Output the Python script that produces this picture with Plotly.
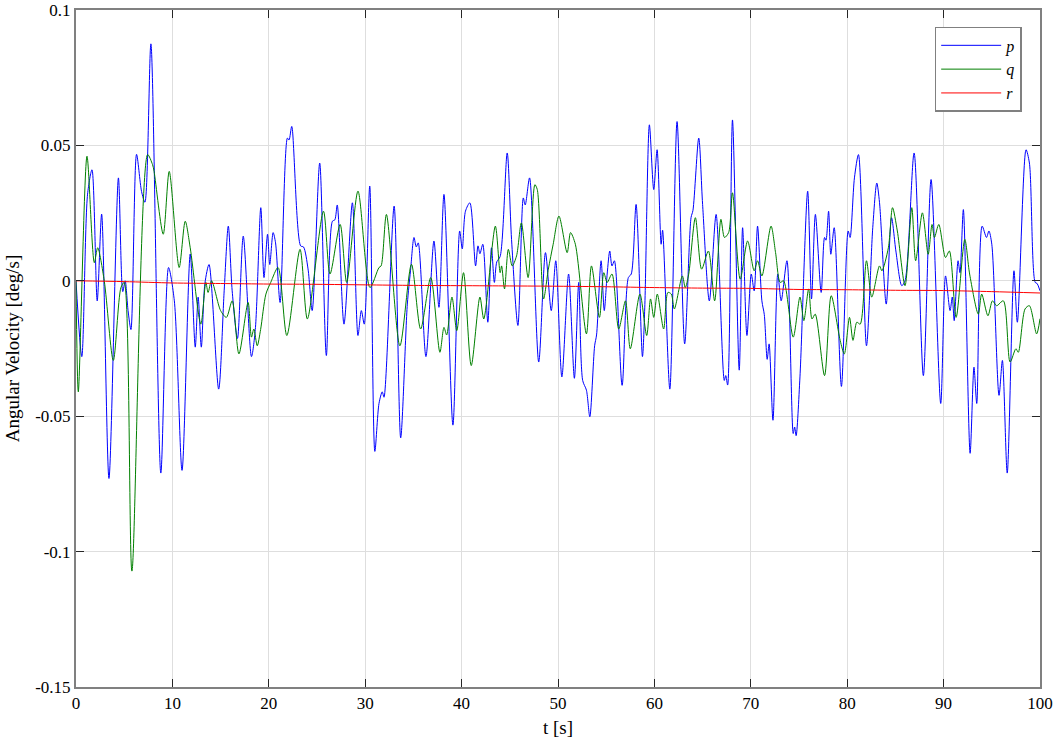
import plotly.graph_objects as go

# ---- data ----
p_t = [0.0, 0.6, 1.2, 1.66, 2.2, 2.66, 3.42, 4.4, 4.85, 5.1, 5.4, 5.7, 6.28, 6.8, 7.15, 7.77, 8.8, 9.6, 10.2,
       11.0, 11.85, 12.37, 12.67, 13.0, 13.37, 13.8, 14.8, 15.37, 15.8, 16.2, 16.75, 17.35, 18.2, 18.6, 19.17,
       19.5, 19.87, 20.1, 20.45, 20.7, 21.17, 21.93, 22.1, 22.38, 23.3, 23.6, 24.07, 24.5, 25.28, 25.97, 26.6,
       26.85, 27.1, 27.8, 28.67, 29.25, 29.6, 29.9, 30.47, 31.0, 31.43, 31.77, 31.95, 33.0, 33.68, 34.37, 34.7,
       35.06, 35.3, 35.5, 36.3, 37.13, 37.65, 38.17, 39.1, 39.8, 40.07, 40.4, 40.86, 41.45, 41.7, 41.9, 42.2,
       42.72, 43.1, 43.4, 43.65, 44.0, 44.73, 45.18, 45.84, 46.4, 46.6, 47.05, 48.0, 48.7, 49.3, 49.77, 50.4,
       51.1, 51.7, 52.15, 52.56, 52.95, 53.3, 53.8, 54.0, 54.47, 54.8, 55.1, 55.37, 55.6, 55.85, 56.65, 57.3,
       57.6, 58.1, 58.76, 59.0, 59.48, 59.93, 60.28, 60.7, 60.85, 61.6, 62.35, 63.14, 63.8, 64.0, 64.6, 65.0,
       65.7, 66.4, 67.25, 67.4, 67.6, 68.1, 68.8, 69.15, 69.6, 70.05, 70.35, 70.7, 71.15, 71.4, 71.7, 71.9,
       72.3, 72.8, 73.15, 73.75, 74.4, 74.55, 74.7, 75.1, 75.9, 76.3, 76.7, 77.3, 77.65, 77.8, 78.07, 78.3,
       78.65, 79.4, 80.1, 80.3, 80.75, 81.17, 82.0, 82.65, 83.07, 83.35, 84.05, 84.6, 85.05, 85.66, 86.0,
       86.94, 87.9, 88.7, 89.7, 90.2, 90.67, 90.9, 91.1, 91.5, 91.7, 92.05, 92.75, 93.15, 93.44, 94.0, 94.45,
       94.7, 95.0, 95.75, 96.1, 96.6, 97.3, 97.65, 98.55, 98.9, 99.5, 99.7, 100.0]
p_v = [0.0, -0.028, 0.032, 0.041, -0.0074, 0.0246, -0.073, 0.038, -0.004, 0.0, -0.011, -0.018, 0.0467, 0.033,
       0.029, 0.0875, -0.071, 0.0049, -0.0074, -0.070, 0.0099, -0.0245, -0.006, -0.0245, -0.001, 0.006, -0.040,
       -0.0037, 0.0202, -0.0037, -0.0213, 0.0165, -0.028, -0.018, 0.027, 0.0012, 0.0172, 0.006, 0.0178, 0.014,
       -0.008, 0.0527, 0.052, 0.057, 0.0129, 0.0125, 0.0044, -0.011, 0.0435, -0.0276, 0.022, 0.0225, 0.028,
       -0.016, 0.0288, -0.0202, -0.011, -0.016, 0.035, -0.063, -0.0453, -0.041, -0.043, 0.0276, -0.058,
       -0.0086, 0.0037, 0.016, 0.0125, 0.014, -0.028, 0.0147, -0.0098, 0.0319, -0.0533, 0.0184, 0.0118, 0.0257,
       0.0288, 0.0055, 0.0129, 0.010, 0.0135, -0.0153, 0.0122, -0.0006, 0.007, 0.009, 0.0472, 0.0153, -0.0165,
       0.0306, 0.028, 0.038, -0.030, 0.0104, -0.011, 0.0074, -0.0355, 0.0025, -0.036, -0.0006, -0.0368,
       -0.0404, -0.0502, -0.024, -0.020, 0.0074, -0.011, 0.0025, 0.011, 0.0055, 0.0074, -0.0386, 0.0012,
       0.0025, 0.0282, -0.028, -0.010, 0.0576, 0.0337, 0.0484, 0.0135, 0.0187, -0.040, 0.0588, -0.0233, 0.0233,
       0.026, 0.0527, 0.0282, -0.0074, 0.0245, -0.0368, -0.035, -0.0385, 0.0594, -0.033, 0.0196, -0.0202,
       0.0025, -0.0037, 0.0202, -0.0074, -0.0125, -0.029, -0.0233, -0.0515, 0.0025, -0.0074, 0.0074, -0.0564,
       -0.054, -0.0572, -0.0355, 0.0331, -0.0067, 0.0245, -0.0043, 0.016, 0.015, 0.0257, 0.0098, 0.0196,
       -0.039, 0.0184, 0.016, 0.038, 0.0466, -0.024, 0.0196, 0.0361, 0.029, -0.0086, 0.0233, 0.011, -0.0018,
       0.0, 0.0472, -0.035, 0.0374, -0.0453, 0.0018, -0.011, -0.006, -0.0147, 0.0074, 0.003, 0.0263, -0.0637,
       -0.0319, -0.0453, 0.0202, 0.016, 0.0184, 0.0135, -0.0423, -0.0294, -0.071, 0.0037, -0.0153, 0.0484,
       0.0435, -0.0006, -0.001, -0.0037]

q_t = [0.0, 0.24, 1.14, 1.9, 2.25, 2.93, 3.87, 4.66, 5.0, 5.8, 7.43, 7.94, 8.1, 9.05, 9.67, 10.7, 11.33,
       11.85, 12.95, 13.47, 13.7, 14.06, 15.0, 15.6, 16.2, 16.9, 17.85, 18.2, 18.45, 18.8, 19.15, 19.7, 20.2,
       20.96, 21.87, 23.24, 24.0, 25.67, 26.35, 27.4, 28.08, 29.25, 30.5, 31.43, 31.65, 32.2, 33.6, 34.8,
       35.75, 36.8, 37.75, 38.17, 38.45, 39.0, 39.5, 40.2, 41.0, 41.9, 42.3, 43.5, 44.0, 44.15, 44.45, 44.85,
       45.25, 45.7, 46.2, 46.9, 47.6, 47.85, 48.5, 49.0, 49.5, 50.1, 50.95, 51.3, 51.8, 52.95, 53.47, 54.3,
       54.75, 55.1, 55.6, 56.3, 57.0, 57.5, 58.5, 59.2, 59.6, 59.93, 60.3, 60.96, 61.4, 61.75, 62.07, 62.9,
       63.2, 63.56, 64.25, 64.9, 65.6, 66.25, 66.9, 67.27, 67.7, 68.1, 68.9, 69.67, 70.35, 70.7, 71.15, 72.1,
       72.57, 73.05, 73.4, 74.4, 75.1, 75.5, 76.0, 76.35, 76.68, 77.65, 78.34, 79.27, 79.7, 80.24, 80.6, 81.0,
       81.35, 82.0, 82.55, 83.35, 83.6, 84.27, 84.7, 85.2, 86.0, 86.7, 87.1, 87.8, 88.4, 88.8, 89.05, 89.5,
       90.2, 90.6, 91.3, 92.2, 92.7, 93.6, 93.95, 94.6, 95.07, 95.5, 96.2, 96.9, 97.5, 97.75, 98.45, 98.9,
       99.65, 100.0]
q_v = [0.0, -0.041, 0.046, 0.0067, 0.0122, 0.0, -0.0294, -0.0025, -0.0006, -0.1072, 0.0466, 0.0429, 0.0404,
       0.0172, 0.0404, 0.0049, 0.022, 0.0122, -0.016, -0.0006, -0.0043, 0.0, -0.011, -0.0135, -0.0074, -0.027,
       -0.008, -0.0208, -0.0178, -0.024, -0.018, -0.0049, -0.0006, 0.0049, -0.0202, 0.0116, -0.0141, 0.0257,
       0.0025, 0.0208, -0.0006, 0.0331, -0.0025, 0.0049, 0.0055, 0.0245, -0.024, 0.0061, -0.0178, 0.0012,
       -0.0264, -0.0172, -0.020, -0.006, -0.0184, 0.003, -0.0313, -0.006, -0.0141, 0.0202, 0.003, 0.0055,
       -0.003, 0.0116, 0.0055, 0.0092, 0.0214, 0.0012, 0.0355, 0.0337, -0.0067, 0.0043, 0.0135, 0.0239, 0.0104,
       0.0178, 0.0135, -0.0196, 0.0055, -0.0135, 0.003, -0.0006, 0.0025, -0.0178, -0.0074, -0.0251, -0.0049,
       -0.0202, -0.0067, -0.0135, -0.0049, -0.0178, -0.0043, -0.0049, -0.0104, 0.0018, -0.0025, 0.0025,
       0.0233, 0.0043, 0.011, -0.0074, 0.0227, 0.016, 0.0178, 0.0325, 0.0006, 0.0147, 0.0037, 0.0074, 0.0018,
       0.0202, 0.0104, -0.0006, 0.0, -0.0208, -0.006, -0.0147, -0.003, -0.0141, -0.0123, -0.035, -0.0055,
       -0.022, -0.027, -0.0135, -0.022, -0.0153, -0.016, 0.0074, -0.006, 0.0055, 0.0037, 0.0122, 0.027, 0.0184,
       -0.0018, 0.027, 0.0074, 0.0251, 0.0098, 0.0208, 0.016, 0.0208, 0.0086, 0.011, -0.0135, 0.0153, 0.0025,
       -0.0123, -0.0049, -0.0129, -0.0074, -0.0092, -0.0074, -0.030, -0.0251, -0.0264, -0.0104, -0.0092,
       -0.0196, -0.014]

r_t = [0, 5, 10, 15, 20, 25, 30, 35, 40, 45, 50, 55, 60, 65, 70, 75, 80, 85, 90, 95, 100]
r_v = [0.0, -0.0003, -0.0008, -0.001, -0.0012, -0.0013, -0.0015, -0.0017, -0.0018, -0.0019, -0.0020,
       -0.0022, -0.0025, -0.0027, -0.0028, -0.0032, -0.0033, -0.0035, -0.0036, -0.0040, -0.0045]

series_names = ["<i>p</i>", "<i>q</i>", "<i>r</i>"]
series_colors = ["#0000ff", "#007f00", "#ff0000"]

x_ticks = [0, 10, 20, 30, 40, 50, 60, 70, 80, 90, 100]
y_ticks = [0.1, 0.05, 0, -0.05, -0.1, -0.15]
y_ticktext = ["0.1", "0.05", "0", "-0.05", "-0.1", "-0.15"]

FONT = "Liberation Serif"

fig = go.Figure()
for (t, v), name, col in zip([(p_t, p_v), (q_t, q_v), (r_t, r_v)], series_names, series_colors):
    fig.add_trace(go.Scatter(x=t, y=v, mode="lines", name=name,
                             line=dict(color=col, width=1, shape="spline", smoothing=0.8)))

axis_common = dict(showline=True, linecolor="#808080", linewidth=2, mirror="all",
                   ticks="inside", ticklen=8, tickcolor="#262626", tickwidth=1,
                   showgrid=True, gridcolor="#dedede", gridwidth=1, zeroline=False,
                   automargin=False, ticklabeloverflow="allow",
                   tickfont=dict(family=FONT, size=17, color="black"))

fig.update_xaxes(range=[0, 100], tickvals=x_ticks, **axis_common,
                 title=dict(text="t [s]", font=dict(family=FONT, size=19, color="black"), standoff=8))
fig.update_yaxes(range=[-0.15, 0.1], tickvals=y_ticks, ticktext=y_ticktext, **axis_common,
                 title=dict(text="Angular Velocity [deg/s]", font=dict(family=FONT, size=19, color="black"),
                            standoff=11))

fig.update_layout(
    width=1054, height=743,
    margin=dict(l=76, r=14, t=10, b=56),
    paper_bgcolor="white", plot_bgcolor="white",
    showlegend=True,
    legend=dict(x=0.981, y=0.975, xanchor="right", yanchor="top",
                bgcolor="white", bordercolor="#808080", borderwidth=1.5,
                font=dict(family=FONT, size=16, color="black"),
                itemwidth=60, tracegroupgap=0),
)

fig.write_html("out.html")
